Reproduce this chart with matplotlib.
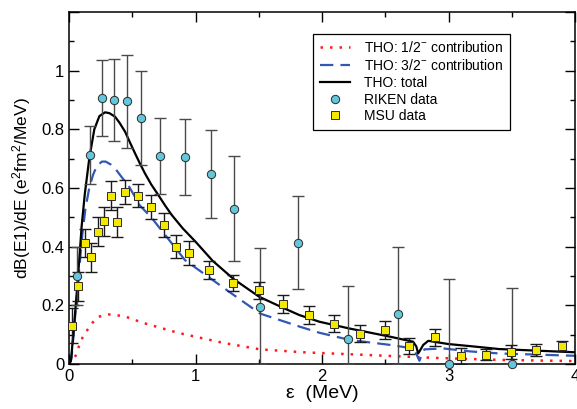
import numpy as np
import matplotlib.pyplot as plt
from matplotlib.ticker import MultipleLocator, FuncFormatter

plt.rcParams['font.family'] = ['Liberation Sans', 'DejaVu Sans']
plt.rcParams['mathtext.fontset'] = 'custom'
plt.rcParams['mathtext.rm'] = 'Liberation Sans'
plt.rcParams['mathtext.it'] = 'Liberation Sans:italic'

# THO calculation: 1/2- and 3/2- contributions and total (energy in MeV)
half_x = [0, 0.02, 0.054, 0.079, 0.108, 0.148, 0.184, 0.232, 0.31, 0.382, 0.45, 0.58,
          0.864, 1.22, 1.51, 1.85, 2.35, 2.88, 3.4, 4.0]
half_y = [0, 0.005, 0.03, 0.061, 0.091, 0.118, 0.14, 0.161, 0.169, 0.166, 0.161, 0.141,
          0.106, 0.072, 0.05, 0.04, 0.031, 0.021, 0.014, 0.010]

three_x = [0, 0.02, 0.05, 0.08, 0.105, 0.13, 0.16, 0.19, 0.22, 0.26, 0.29, 0.33, 0.364,
           0.42, 0.469, 0.561, 0.65, 0.917, 1.247, 1.51, 1.826, 1.984, 2.22, 2.54, 2.72,
           2.745, 2.77, 2.79, 2.81, 2.96, 3.17, 3.4, 4.0]
three_y = [0, 0.02, 0.17, 0.32, 0.44, 0.53, 0.60, 0.645, 0.675, 0.69, 0.69, 0.68, 0.667,
           0.635, 0.609, 0.54, 0.50, 0.354, 0.252, 0.172, 0.127, 0.106, 0.082, 0.065, 0.053,
           0.035, 0.011, 0.035, 0.05, 0.053, 0.043, 0.036, 0.028]

total_x = [0, 0.015, 0.04, 0.07, 0.1, 0.125, 0.16, 0.2, 0.24, 0.285, 0.32, 0.364, 0.40,
           0.443, 0.48, 0.522, 0.56, 0.6, 0.65, 0.706, 0.76, 0.812, 0.9, 1.0, 1.135, 1.3,
           1.504, 1.7, 1.82, 1.98, 2.217, 2.54, 2.72, 2.745, 2.76, 2.78, 2.80, 2.84, 3.0,
           3.17, 3.4, 4.0]
total_y = [0, 0.01, 0.13, 0.29, 0.47, 0.58, 0.70, 0.80, 0.845, 0.858, 0.855, 0.843, 0.822,
           0.792, 0.757, 0.718, 0.684, 0.65, 0.612, 0.576, 0.54, 0.508, 0.462, 0.417, 0.352,
           0.29, 0.229, 0.19, 0.167, 0.144, 0.121, 0.093, 0.076, 0.06, 0.036, 0.05, 0.065,
           0.079, 0.068, 0.061, 0.051, 0.040]

# RIKEN data
riken_x = [0.063, 0.166, 0.261, 0.356, 0.461, 0.567, 0.717, 0.917, 1.12, 1.307, 1.51,
           1.808, 2.203, 2.60, 3.006, 3.502]
riken_y = [0.30, 0.713, 0.906, 0.901, 0.895, 0.839, 0.71, 0.705, 0.647, 0.53, 0.195,
           0.414, 0.086, 0.17, 0.0, 0.0]
riken_err_lo = [0.10, 0.10, 0.13, 0.14, 0.16, 0.16, 0.13, 0.13, 0.15, 0.18, 0.195,
                0.16, 0.086, 0.17, 0.0, 0.0]
riken_err_hi = [0.10, 0.10, 0.13, 0.14, 0.16, 0.16, 0.13, 0.13, 0.15, 0.18, 0.20,
                0.16, 0.18, 0.23, 0.29, 0.26]

# MSU data
msu_x = [0.02, 0.071, 0.124, 0.174, 0.227, 0.279, 0.332, 0.382, 0.445, 0.548, 0.651,
         0.753, 0.846, 0.951, 1.104, 1.294, 1.504, 1.694, 1.90, 2.095, 2.30, 2.496,
         2.685, 2.891, 3.099, 3.294, 3.497, 3.692, 3.90]
msu_y = [0.13, 0.265, 0.413, 0.364, 0.451, 0.486, 0.574, 0.484, 0.587, 0.574, 0.536,
         0.473, 0.40, 0.378, 0.32, 0.276, 0.251, 0.204, 0.167, 0.138, 0.104, 0.116,
         0.061, 0.091, 0.027, 0.032, 0.041, 0.049, 0.061]
msu_err = [0.06, 0.05, 0.047, 0.049, 0.05, 0.05, 0.049, 0.05, 0.04, 0.039, 0.041,
           0.041, 0.04, 0.041, 0.03, 0.028, 0.028, 0.03, 0.03, 0.03, 0.03, 0.03,
           0.028, 0.03, 0.027, 0.02, 0.023, 0.02, 0.018]

fig = plt.figure(figsize=(5.77, 4.09), dpi=100)
ax = fig.add_axes([0.1196, 0.11, 0.877, 0.8607])

ax.plot(half_x, half_y, color='#ff1a1a', lw=1.8, linestyle=(0, (1, 2.8)),
        label='THO: 1/2$^{-}$ contribution')
ax.plot(three_x, three_y, color='#3158b5', lw=1.6, linestyle=(0, (6, 3.2)),
        label='THO: 3/2$^{-}$ contribution')
ax.plot(total_x, total_y, color='black', lw=1.6, label='THO: total')

ax.errorbar(riken_x, riken_y, yerr=[riken_err_lo, riken_err_hi], fmt='none',
            ecolor='#4a4a4a', elinewidth=1.0, capsize=4, capthick=1.0, zorder=3)
ax.errorbar(msu_x, msu_y, yerr=msu_err, fmt='none',
            ecolor='#1a1a1a', elinewidth=1.0, capsize=4, capthick=1.0, zorder=3)
ax.plot(riken_x, riken_y, 'o', ms=6, mfc='#63c6da', mec='#2b2b2b', mew=0.7,
        clip_on=False, zorder=4, label='RIKEN data')
ax.plot(msu_x, msu_y, 's', ms=5.5, mfc='#f5e800', mec='#2b2b2b', mew=0.7,
        clip_on=False, zorder=4, label='MSU data')

ax.set_xlim(0, 4)
ax.set_ylim(0, 1.2)
ax.xaxis.set_major_locator(MultipleLocator(1))
ax.xaxis.set_minor_locator(MultipleLocator(0.5))
ax.yaxis.set_major_locator(MultipleLocator(0.2))
ax.yaxis.set_minor_locator(MultipleLocator(0.1))
ax.yaxis.set_major_formatter(FuncFormatter(lambda v, p: '%g' % round(v, 2) if v < 1.1 else ''))
ax.tick_params(which='both', direction='in', top=True, right=True, labelsize=12, width=1)
ax.tick_params(which='major', length=7)
ax.tick_params(which='minor', length=3.6)
for s in ax.spines.values():
    s.set_linewidth(1.1)

ax.set_xlabel('ε  (MeV)', fontsize=14, labelpad=1)
ax.set_ylabel('dB(E1)/dE (e$^2$fm$^2$/MeV)', fontsize=12.5, labelpad=6)

leg = ax.legend(loc='upper left', bbox_to_anchor=(0.483, 0.9375), borderaxespad=0,
                fontsize=10, frameon=True, fancybox=False, edgecolor='black',
                framealpha=1, handlelength=2.2, handletextpad=1.0, labelspacing=0.2,
                borderpad=0.45)
leg.get_frame().set_linewidth(0.9)

fig.savefig('out.png', dpi=100)
